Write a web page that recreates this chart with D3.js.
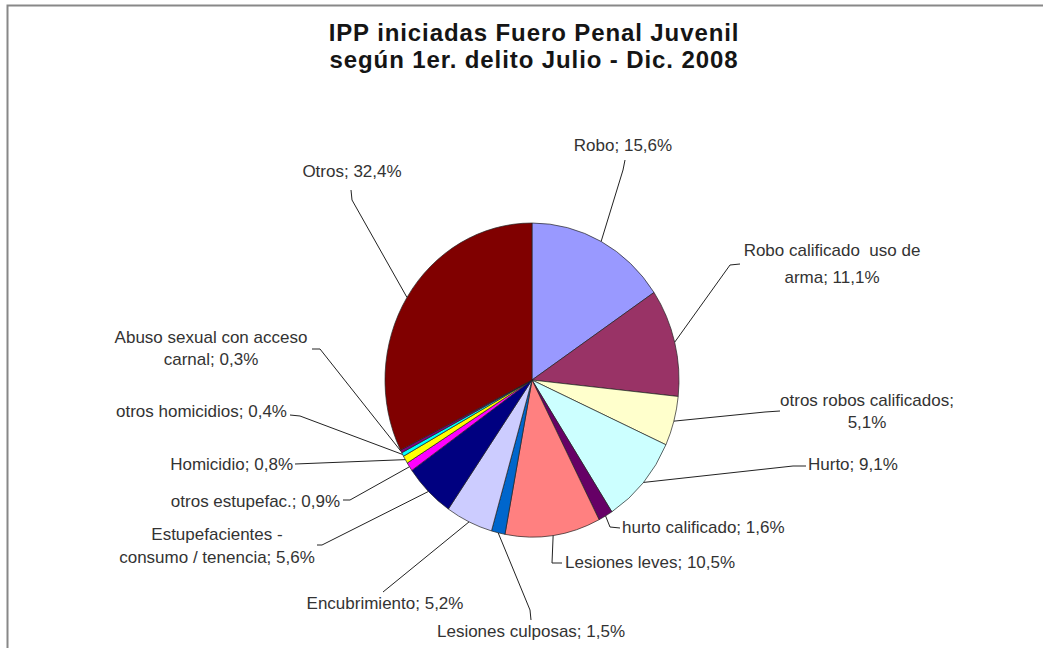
<!DOCTYPE html>
<html>
<head>
<meta charset="utf-8">
<script src="https://cdn.jsdelivr.net/npm/d3@7"></script>
<style>
  body { margin: 0; background: #fff; }
  text { font-family: "Liberation Sans", Arial, sans-serif; white-space: pre; }
</style>
</head>
<body>
<div class="pie-div"></div>
<script>
// data (clockwise from 12 o'clock)
let categories = ["Robo", "Robo calificado  uso de arma", "otros robos calificados", "Hurto",
  "hurto calificado", "Lesiones leves", "Lesiones culposas", "Encubrimiento",
  "Estupefacientes - consumo / tenencia", "otros estupefac.", "Homicidio",
  "otros homicidios", "Abuso sexual con acceso carnal", "Otros"];
let shares = [15.6, 11.1, 5.1, 9.1, 1.6, 10.5, 1.5, 5.2, 5.6, 0.9, 0.8, 0.4, 0.3, 32.4];
let colours = ["#9999ff", "#993366", "#ffffcc", "#ccffff", "#660066", "#ff8080", "#0066cc",
  "#ccccff", "#000080", "#ff00ff", "#ffff00", "#00ffff", "#800080", "#800000"];
let titleLines = ["IPP iniciadas Fuero Penal Juvenil", "según 1er. delito Julio - Dic. 2008"];

// label placement (layout only)
let labelPos = [
  {x: 623, y: 151, anchor: "middle", pts: [[623, 170], [625, 160]]},
  {x: 832, y: 256, anchor: "middle", brk: 5, lh: 27, pts: [[730, 265], [740, 264]]},
  {x: 867, y: 406, anchor: "middle", brk: 3, lh: 22, pts: [[765, 412], [780, 411]]},
  {x: 808, y: 470, anchor: "start", pts: [[793, 466], [806, 466]]},
  {x: 622, y: 533, anchor: "start", pts: [[610, 527], [620, 528]]},
  {x: 565, y: 568, anchor: "start", pts: [[552, 563], [562, 563]]},
  {x: 531, y: 637, anchor: "middle", pts: [[530, 610], [531, 620]]},
  {x: 385, y: 609, anchor: "middle", pts: [[383, 592]]},
  {x: 217, y: 540, anchor: "middle", brk: 2, lh: 23, pts: [[322, 545], [317, 545]]},
  {x: 340, y: 507, anchor: "end", pts: [[350, 500], [343, 500]]},
  {x: 293, y: 470, anchor: "end", pts: [[295, 464]]},
  {x: 287, y: 417, anchor: "end", pts: [[300, 416], [290, 415]]},
  {x: 211, y: 343, anchor: "middle", brk: 4, lh: 22, pts: [[320, 349], [312, 349]]},
  {x: 352, y: 177, anchor: "middle", pts: [[352, 200], [351, 190]]}
];

let width = 1043;
let height = 648;
let cx = 532, cy = 380;
let rx = 147, ry = 157;

let svg = d3.select(".pie-div").append("svg")
  .attr("width", width)
  .attr("height", height);

// frame (right/bottom edges fall outside the picture)
svg.append("rect")
  .attr("x", 7.5).attr("y", 5.5)
  .attr("width", 1200).attr("height", 800)
  .style("fill", "none")
  .style("stroke", "#888")
  .style("stroke-width", 2);

// title
svg.append("g").selectAll("text")
  .data(titleLines)
  .enter()
  .append("text")
  .attr("x", 534)
  .attr("y", (d, i) => 41 + i * 27)
  .style("text-anchor", "middle")
  .style("font-size", "24px")
  .style("letter-spacing", "0.9px")
  .style("font-weight", "bold")
  .style("fill", "#151515")
  .text(d => d);

let pie = d3.pie().sort(null).value(d => d);
let arcs = pie(shares);
let arc = d3.arc().innerRadius(0).outerRadius(rx);

// slices, squeezed into the slight ellipse of the original
svg.append("g")
  .attr("transform", `translate(${cx},${cy}) scale(1,${ry / rx})`)
  .selectAll("path")
  .data(arcs)
  .enter()
  .append("path")
  .attr("d", arc)
  .style("fill", (d, i) => colours[i])
  .style("stroke", "#222")
  .style("stroke-width", 0.7)
  .attr("vector-effect", "non-scaling-stroke");

// leader lines from the rim at mid angle
let line = d3.line();
svg.append("g").selectAll("path")
  .data(arcs)
  .enter()
  .append("path")
  .attr("d", (d, i) => {
    let a = (d.startAngle + d.endAngle) / 2;
    let start = [cx + rx * Math.sin(a), cy - ry * Math.cos(a)];
    return line([start].concat(labelPos[i].pts));
  })
  .style("fill", "none")
  .style("stroke", "#222")
  .style("stroke-width", 1);

// labels
let fmt = v => v.toFixed(1).replace(".", ",");
arcs.forEach((d, i) => {
  let p = labelPos[i];
  let words = (categories[i] + "; " + fmt(shares[i]) + "%").split(" ");
  let lines = p.brk ? [words.slice(0, p.brk).join(" "), words.slice(p.brk).join(" ")] : [words.join(" ")];
  let t = svg.append("text")
    .attr("x", p.x)
    .attr("y", p.y)
    .style("text-anchor", p.anchor)
    .style("font-size", "17px")
    .style("fill", "#333");
  lines.forEach((l, j) => {
    t.append("tspan")
      .attr("x", p.x)
      .attr("y", p.y + j * (p.lh || 0))
      .text(l);
  });
});
</script>
</body>
</html>
